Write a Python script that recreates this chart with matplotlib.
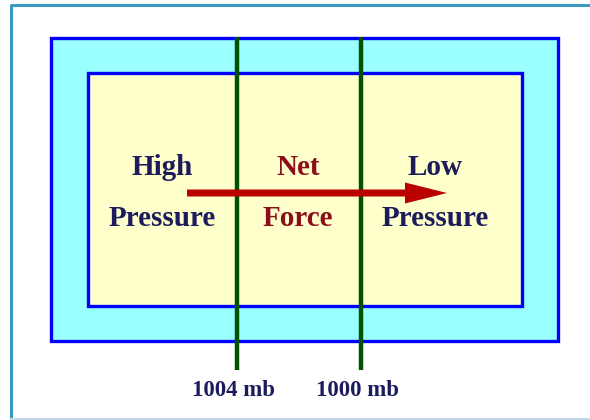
import matplotlib
matplotlib.use('Agg')
import matplotlib.pyplot as plt
from matplotlib.patches import Rectangle, FancyArrow

# isobars and labels
isobar_labels = ['1004 mb', '1000 mb']
isobar_x = [237, 361]
region_words = [('High', 'Pressure'), ('Net', 'Force'), ('Low', 'Pressure')]
region_x = [162, 298, 435]
region_colors = ['#1c1c5c', '#8b0f1a', '#1c1c5c']

fig = plt.figure(figsize=(5.9, 4.2), dpi=100)
ax = fig.add_axes([0, 0, 1, 1])
ax.set_xlim(0, 590)
ax.set_ylim(420, 0)
ax.axis('off')

serif = ['Liberation Serif', 'DejaVu Serif']

# page frame
ax.plot([11, 11, 590], [420, 5, 5], color='#3a9abf', lw=2.2, solid_capstyle='butt')
ax.plot([11, 590], [419, 419], color='#c4d9e8', lw=1.5)

# outer cyan box and inner yellow box
ax.add_patch(Rectangle((51, 38), 507, 303, facecolor='#99ffff',
                       edgecolor='#0000ff', lw=2.4, zorder=1))
ax.add_patch(Rectangle((88, 73), 434, 233, facecolor='#ffffcc',
                       edgecolor='#0000ff', lw=2.4, zorder=2))

# isobars
for x, lab in zip(isobar_x, isobar_labels):
    ax.plot([x, x], [37, 370], color='#005200', lw=3.2, zorder=3,
            solid_capstyle='butt')
    ax.text(x - 3, 396, lab, ha='center', va='baseline', color='#1c1c5c',
            fontsize=16.5, family=serif, fontweight='bold')

# net force arrow
ax.add_patch(FancyArrow(187, 193, 260, 0, width=7, head_width=21,
                        head_length=42, length_includes_head=True,
                        color='#bb0000', lw=0, zorder=4))

for x, (w1, w2), c in zip(region_x, region_words, region_colors):
    ax.text(x, 175, w1, ha='center', va='baseline', color=c,
            fontsize=21, family=serif, fontweight='bold', zorder=5)
    ax.text(x, 226, w2, ha='center', va='baseline', color=c,
            fontsize=21, family=serif, fontweight='bold', zorder=5)

fig.savefig('out.png', dpi=100)
